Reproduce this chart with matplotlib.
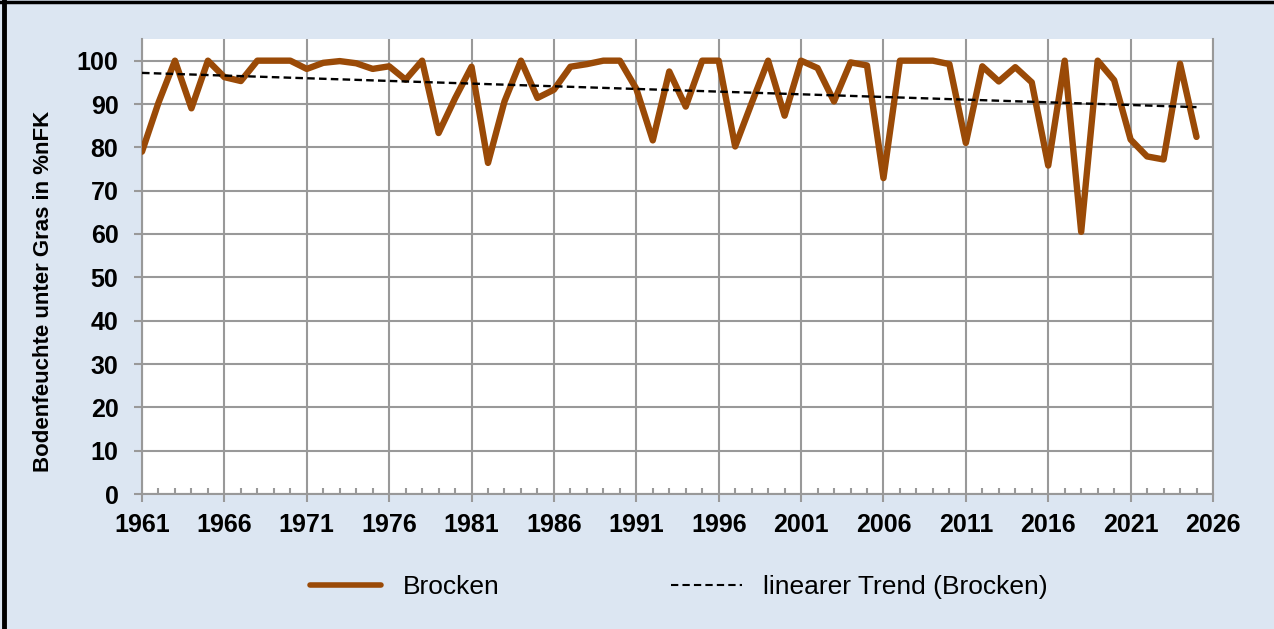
import matplotlib
matplotlib.use("Agg")
import matplotlib.pyplot as plt
import numpy as np
from matplotlib.lines import Line2D
from matplotlib.ticker import MultipleLocator

years = list(range(1961, 2026))
brocken = [79.0, 90.3, 100.0, 89.0, 100.0, 96.2, 95.3, 100.0, 100.0, 100.0,
           98.1, 99.5, 99.9, 99.4, 98.1, 98.7, 95.6, 100.0, 83.3, 91.3,
           98.6, 76.4, 90.6, 100.0, 91.4, 93.3, 98.6, 99.2, 100.0, 100.0,
           93.5, 81.6, 97.5, 89.4, 100.0, 100.0, 80.2, 90.2, 100.0, 87.3,
           100.0, 98.3, 90.6, 99.6, 98.9, 72.9, 100.0, 100.0, 100.0, 99.2,
           81.0, 98.7, 95.2, 98.5, 95.0, 75.8, 100.0, 60.5, 100.0, 95.5,
           81.8, 77.9, 77.2, 99.3, 82.4]
xticks = list(range(1961, 2027, 5))
yticks = list(range(0, 101, 10))
series_label = "Brocken"
trend_label = "linearer Trend (Brocken)"
ylabel = "Bodenfeuchte unter Gras in %nFK"

plt.rcParams['font.family'] = ['Liberation Sans', 'DejaVu Sans']

bg = '#dce6f2'
brown = '#9a4a07'
grid = '#999999'

fig = plt.figure(figsize=(12.74, 6.29), dpi=100, facecolor=bg)
ax = fig.add_axes([142/1274, 1-494/629, (1213-142)/1274, (494-39)/629])
ax.set_facecolor('white')

x = np.array(years, dtype=float)
y = np.array(brocken)
coef = np.polyfit(x, y, 1)
trend = np.polyval(coef, x)

ax.plot(x, y, color=brown, lw=4.6, solid_joinstyle='round',
        solid_capstyle='round', label=series_label, zorder=3)
ax.plot(x, trend, color='black', lw=1.7, dashes=(3.2, 1.8),
        label=trend_label, zorder=4)

ax.set_xlim(1961, 2026)
ax.set_ylim(0, 105)
ax.set_xticks(xticks)
ax.set_yticks(yticks)
ax.xaxis.set_minor_locator(MultipleLocator(1))
ax.grid(True, which='major', color=grid, lw=1.5)
ax.set_axisbelow(True)

for s in ['left', 'bottom', 'right']:
    ax.spines[s].set_color(grid)
    ax.spines[s].set_linewidth(1.5)
ax.spines['top'].set_visible(False)

ax.tick_params(axis='y', which='major', direction='out', length=6,
               width=1.5, color=grid, pad=11)
ax.tick_params(axis='x', which='major', direction='out', length=6,
               width=1.5, color=grid, pad=8)
ax.tick_params(axis='x', which='minor', direction='in', length=4,
               width=1.5, color=grid)
ax.tick_params(axis='y', which='minor', left=False)
for lab in ax.get_xticklabels() + ax.get_yticklabels():
    lab.set_fontsize(18)
    lab.set_fontweight('bold')

fig.text(44/1274, 1-291/629, ylabel, rotation=90, ha='center', va='center',
         fontsize=16, fontweight='bold')

h1 = Line2D([], [], color=brown, lw=4, solid_capstyle='round')
h2 = Line2D([], [], color='black', lw=1.5, dashes=(3.5, 2))
leg = fig.legend([h1, h2], [series_label, trend_label], ncol=2,
                 loc='center', bbox_to_anchor=(679/1274, 1-587/629),
                 frameon=False, fontsize=19, handlelength=2.7,
                 handletextpad=0.8, columnspacing=6.5)

fig.add_artist(Line2D([4/1274, 4/1274], [0, 1], color='black', lw=3.5,
                      transform=fig.transFigure))
fig.add_artist(Line2D([0, 1], [1-1.5/629, 1-1.5/629], color='black', lw=2.5,
                      transform=fig.transFigure))

fig.savefig('out.png', dpi=100, facecolor=bg)
